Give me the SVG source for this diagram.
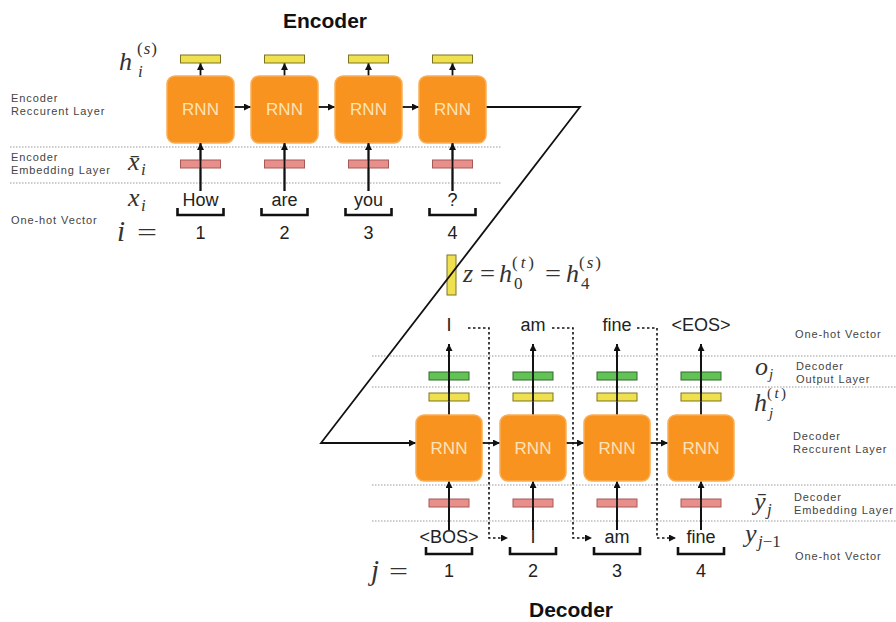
<svg xmlns="http://www.w3.org/2000/svg" width="896" height="622" viewBox="0 0 896 622">
<style>
.box{fill:#F7931E;stroke:#FAAE55;stroke-width:1.5}
.rnn{font-family:"Liberation Sans",Arial,sans-serif;font-size:17px;fill:#FDE3B8;text-anchor:middle}
.yb{fill:#EEE04E;stroke:#7E7420;stroke-width:1}
.gb{fill:#63C256;stroke:#2E6A2A;stroke-width:1}
.pb{fill:#E98F8B;stroke:#A65A58;stroke-width:1}
.word{font-family:"Liberation Sans",Arial,sans-serif;font-size:18px;fill:#222;text-anchor:middle}
.lbl{font-family:"Liberation Sans",Arial,sans-serif;font-size:11px;letter-spacing:0.9px;fill:#444}
.math{font-family:"Liberation Serif","Times New Roman",serif;font-style:italic;font-size:26px;fill:#333}
.up{font-style:normal}
.sm{font-size:17px}
.xs{font-size:15px}
.title{font-family:"Liberation Sans",Arial,sans-serif;font-size:21px;font-weight:bold;fill:#111;text-anchor:middle}
.dot{stroke:#999;stroke-width:1.2;stroke-dasharray:1.5 1.5;fill:none}
.ln{stroke:#111;stroke-width:1.8;fill:none}
.ar{stroke:#111;stroke-width:1.8;fill:none;marker-end:url(#ah)}
.fb{stroke:#111;stroke-width:1.6;stroke-dasharray:2.5 2.5;fill:none;marker-end:url(#ah)}
.br{stroke:#111;stroke-width:2.6;fill:none}
</style>
<defs>
<marker id="ah" viewBox="0 0 10 10" refX="10" refY="5" markerWidth="7" markerHeight="7" markerUnits="userSpaceOnUse" orient="auto"><path d="M0,0 L10,5 L0,10 z" fill="#111"/></marker>
</defs>
<rect width="896" height="622" fill="#fff"/>

<g id="layer-lines">
<path class="dot" d="M10,147 H502 M10,183 H502"/>
<path class="dot" d="M372,356 H896 M372,387 H896 M372,485 H896 M372,521 H896"/>
</g>

<g id="titles">
<text class="title" x="325" y="28">Encoder</text>
<text class="title" x="571" y="617">Decoder</text>
</g>

<g id="left-labels">
<text class="lbl" x="11" y="102">Encoder<tspan x="11" dy="12.5">Reccurent Layer</tspan></text>
<text class="lbl" x="11" y="161">Encoder<tspan x="11" dy="12.5">Embedding Layer</tspan></text>
<text class="lbl" x="11" y="224">One-hot Vector</text>
</g>

<g id="right-labels">
<text class="lbl" x="795" y="338">One-hot Vector</text>
<text class="lbl" x="796" y="370">Decoder<tspan x="796" dy="12.5">Output Layer</tspan></text>
<text class="lbl" x="793" y="440">Decoder<tspan x="793" dy="12.5">Reccurent Layer</tspan></text>
<text class="lbl" x="794" y="501">Decoder<tspan x="794" dy="12.5">Embedding Layer</tspan></text>
<text class="lbl" x="795" y="560">One-hot Vector</text>
</g>

<g id="math-labels">
<text class="math" x="119" y="70">h</text>
<text class="math sm" x="137" y="54" textLength="20" lengthAdjust="spacing"><tspan class="up">(</tspan>s<tspan class="up">)</tspan></text>
<text class="math sm" x="138" y="77">i</text>
<text class="math" x="128" y="170">x̄</text>
<text class="math sm" x="141" y="175">i</text>
<text class="math" x="128" y="206">x</text>
<text class="math sm" x="141" y="211">i</text>
<text class="math" x="117" y="241" style="font-size:29px">i</text>
<text class="math up" x="137" y="241" textLength="20" lengthAdjust="spacingAndGlyphs">=</text>

<text class="math" x="463" y="282">z</text>
<text class="math up" x="480" y="282" textLength="15" lengthAdjust="spacingAndGlyphs">=</text>
<text class="math" x="499" y="282">h</text>
<text class="math sm" x="512" y="268" textLength="22" lengthAdjust="spacing"><tspan class="up">(</tspan>t<tspan class="up">)</tspan></text>
<text class="math sm up" x="514" y="289">0</text>
<text class="math up" x="545" y="282" textLength="16" lengthAdjust="spacingAndGlyphs">=</text>
<text class="math" x="566" y="282">h</text>
<text class="math sm" x="579" y="268" textLength="22" lengthAdjust="spacing"><tspan class="up">(</tspan>s<tspan class="up">)</tspan></text>
<text class="math sm up" x="581" y="289">4</text>

<text class="math" x="755" y="375">o</text>
<text class="math xs" x="769" y="379">j</text>
<text class="math" x="754" y="411">h</text>
<text class="math xs" x="767" y="398" textLength="19" lengthAdjust="spacing"><tspan class="up">(</tspan>t<tspan class="up">)</tspan></text>
<text class="math xs" x="769" y="418">j</text>
<text class="math" x="754" y="510">ȳ</text>
<text class="math sm" x="767" y="515">j</text>
<text class="math" x="745" y="542">y</text>
<text class="math sm" x="758" y="547">j<tspan class="up">−1</tspan></text>
<text class="math" x="371" y="580" style="font-size:29px">j</text>
<text class="math up" x="389" y="580" textLength="19" lengthAdjust="spacingAndGlyphs">=</text>
</g>

<g id="z-vector">
<rect class="yb" x="447" y="255" width="9" height="40"/>
</g>

<g id="connectors">
<path class="ar" d="M200.5,76 V63"/>
<path class="ar" d="M284.5,76 V63"/>
<path class="ar" d="M368.5,76 V63"/>
<path class="ar" d="M452.5,76 V63"/>
<path class="ar" d="M200.5,191 V143"/>
<path class="ar" d="M284.5,191 V143"/>
<path class="ar" d="M368.5,191 V143"/>
<path class="ar" d="M452.5,191 V143"/>
<path class="ar" d="M234,107 H251"/>
<path class="ar" d="M318,107 H335"/>
<path class="ar" d="M402,107 H419"/>
<path class="ar" d="M486,107 H580 L321,443 H416"/>
<path class="ar" d="M449,415 V344"/>
<path class="ar" d="M533,415 V344"/>
<path class="ar" d="M617,415 V344"/>
<path class="ar" d="M701,415 V344"/>
<path class="ar" d="M449,530 V481"/>
<path class="ar" d="M533,530 V481"/>
<path class="ar" d="M617,530 V481"/>
<path class="ar" d="M701,530 V481"/>
<path class="ar" d="M482,443 H500"/>
<path class="ar" d="M566,443 H584"/>
<path class="ar" d="M650,443 H668"/>
<path class="fb" d="M468,328 H489 V538 H508"/>
<path class="fb" d="M552,328 H573 V538 H592"/>
<path class="fb" d="M637,328 H657 V538 H676"/>
</g>

<g id="enc-1">
<rect class="yb" x="180.5" y="55" width="40" height="8"/>
<rect class="box" x="167" y="76" width="67" height="67" rx="8"/>
<text class="rnn" x="200.5" y="115">RNN</text>
<rect class="pb" x="180.5" y="160" width="40" height="8"/>
<text class="word" x="200.5" y="206">How</text>
<path class="br" d="M177.5,208 V215 H223.5 V208"/>
<text class="word" x="200.5" y="239">1</text>
</g>
<g id="enc-2">
<rect class="yb" x="264.5" y="55" width="40" height="8"/>
<rect class="box" x="251" y="76" width="67" height="67" rx="8"/>
<text class="rnn" x="284.5" y="115">RNN</text>
<rect class="pb" x="264.5" y="160" width="40" height="8"/>
<text class="word" x="284.5" y="206">are</text>
<path class="br" d="M261.5,208 V215 H307.5 V208"/>
<text class="word" x="284.5" y="239">2</text>
</g>
<g id="enc-3">
<rect class="yb" x="348.5" y="55" width="40" height="8"/>
<rect class="box" x="335" y="76" width="67" height="67" rx="8"/>
<text class="rnn" x="368.5" y="115">RNN</text>
<rect class="pb" x="348.5" y="160" width="40" height="8"/>
<text class="word" x="368.5" y="206">you</text>
<path class="br" d="M345.5,208 V215 H391.5 V208"/>
<text class="word" x="368.5" y="239">3</text>
</g>
<g id="enc-4">
<rect class="yb" x="432.5" y="55" width="40" height="8"/>
<rect class="box" x="419" y="76" width="67" height="67" rx="8"/>
<text class="rnn" x="452.5" y="115">RNN</text>
<rect class="pb" x="432.5" y="160" width="40" height="8"/>
<text class="word" x="452.5" y="206">?</text>
<path class="br" d="M429.5,208 V215 H475.5 V208"/>
<text class="word" x="452.5" y="239">4</text>
</g>

<g id="dec-1">
<text class="word" x="449" y="331">I</text>
<rect class="gb" x="429" y="372" width="40" height="8"/>
<rect class="yb" x="429" y="393" width="40" height="8"/>
<rect class="box" x="416" y="415" width="66" height="66" rx="8"/>
<text class="rnn" x="449" y="454">RNN</text>
<rect class="pb" x="429" y="499" width="40" height="8"/>
<text class="word" x="449" y="543">&lt;BOS&gt;</text>
<path class="br" d="M426,547 V554 H472 V547"/>
<text class="word" x="449" y="577">1</text>
</g>
<g id="dec-2">
<text class="word" x="533" y="331">am</text>
<rect class="gb" x="513" y="372" width="40" height="8"/>
<rect class="yb" x="513" y="393" width="40" height="8"/>
<rect class="box" x="500" y="415" width="66" height="66" rx="8"/>
<text class="rnn" x="533" y="454">RNN</text>
<rect class="pb" x="513" y="499" width="40" height="8"/>
<text class="word" x="533" y="543">I</text>
<path class="br" d="M510,547 V554 H556 V547"/>
<text class="word" x="533" y="577">2</text>
</g>
<g id="dec-3">
<text class="word" x="617" y="331">fine</text>
<rect class="gb" x="597" y="372" width="40" height="8"/>
<rect class="yb" x="597" y="393" width="40" height="8"/>
<rect class="box" x="584" y="415" width="66" height="66" rx="8"/>
<text class="rnn" x="617" y="454">RNN</text>
<rect class="pb" x="597" y="499" width="40" height="8"/>
<text class="word" x="617" y="543">am</text>
<path class="br" d="M594,547 V554 H640 V547"/>
<text class="word" x="617" y="577">3</text>
</g>
<g id="dec-4">
<text class="word" x="701" y="331">&lt;EOS&gt;</text>
<rect class="gb" x="681" y="372" width="40" height="8"/>
<rect class="yb" x="681" y="393" width="40" height="8"/>
<rect class="box" x="668" y="415" width="66" height="66" rx="8"/>
<text class="rnn" x="701" y="454">RNN</text>
<rect class="pb" x="681" y="499" width="40" height="8"/>
<text class="word" x="701" y="543">fine</text>
<path class="br" d="M678,547 V554 H724 V547"/>
<text class="word" x="701" y="577">4</text>
</g>

<g id="overlay-lines">
<path class="ln" d="M200.5,191 V143 M284.5,191 V143 M368.5,191 V143 M452.5,191 V143"/>
<path class="ln" d="M449,401 V344 M533,401 V344 M617,401 V344 M701,401 V344"/>
<path class="ln" d="M449,530 V485 M533,530 V485 M617,530 V485 M701,530 V485"/>
</g>
</svg>
